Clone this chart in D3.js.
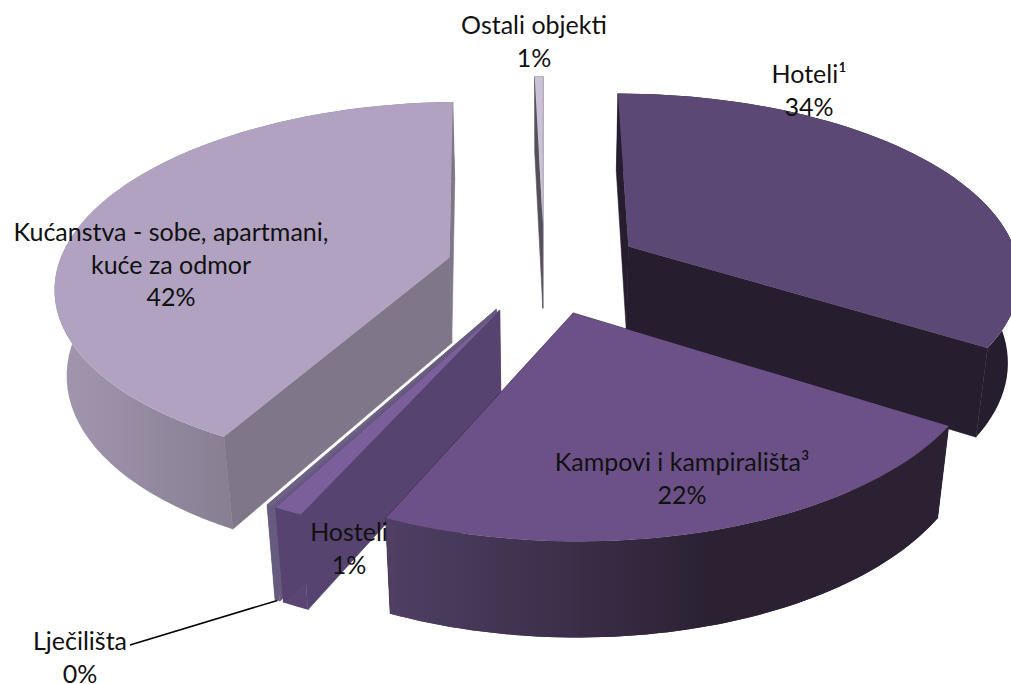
<!DOCTYPE html>
<html><head><meta charset="utf-8">
<script src="https://cdn.jsdelivr.net/npm/d3@7/dist/d3.min.js"></script>
<style>html,body{margin:0;background:#fff}svg{display:block}text{font-family:Lato,"Open Sans",sans-serif;font-size:25px;fill:#111}</style>
</head><body><svg id="c" width="1011" height="684"></svg>
<script>
const categories=["Hoteli¹","Kampovi i kampirališta³","Hosteli","Lječilišta","Kućanstva - sobe, apartmani, kuće za odmor","Ostali objekti"];
const values=[34,22.7,1.0,0.2,41.7,0.4];
const percentLabels=["34%","22%","1%","0%","42%","1%"];
const topColors=["#5b4874","#6b5187","#7a5f9a","#6f6088","#b0a2c0","#cbc3d5"];
const sideColors=["#261d2e","#2e2238","#56436f","#665a7e","#7f7789","#55505c"];
const wallFrom=["#261d2e","#4f4064","#5b4673","#6b5b85","#a397b0","#55505c"];
const wallTo=["#261d2e","#2b2133","#5b4673","#6b5b85","#7f7789","#55505c"];
const labelLines=[["Hoteli¹"],["Kampovi i kampirališta³"],["Hosteli"],["Lječilišta"],["Kućanstva - sobe, apartmani,","kuće za odmor"],["Ostali objekti"]];
const labelAnchor=[[809,83],[682,471],[349,541],[80,650],[171,241],[534,34]];

const svg=d3.select("#c");
const view={cx:544,cy:268,rx:392,ry:181,depth:88,persp:0.145,sink:0.025,explode:0.25};
function project(X,Y,z){
  const s=1/(1+view.persp*Y+view.sink*z);
  return [view.cx+view.rx*X*s, view.cy+(-view.ry*Y+view.depth*z)*s];
}
const pie=d3.pie().sort(null).value(d=>d);
const arcs=pie(values);
const line=d3.line();
const defs=svg.append("defs");
arcs.forEach((a,i)=>{
  const g=defs.append("linearGradient").attr("id","w"+i);
  g.append("stop").attr("offset",0).attr("stop-color",wallFrom[i]);
  g.append("stop").attr("offset",0.58).attr("stop-color",wallTo[i]);
  g.append("stop").attr("offset",1).attr("stop-color",wallTo[i]);
});
const drawOrder=[5,4,0,3,2,1];
drawOrder.forEach(i=>{
  const a=arcs[i],m=(a.startAngle+a.endAngle)/2;
  const ox=view.explode*Math.sin(m),oy=view.explode*Math.cos(m);
  const rim=z=>d3.range(0,61).map(k=>{
    const t=a.startAngle+(a.endAngle-a.startAngle)*k/60;
    return project(ox+Math.sin(t),oy+Math.cos(t),z);
  });
  const top=rim(0),bot=rim(1);
  const c0=project(ox,oy,0),c1=project(ox,oy,1);
  const g=svg.append("g");
  g.append("path").attr("d",line(top.concat(bot.slice().reverse()))+"Z").attr("fill",`url(#w${i})`);
  g.append("path").attr("d",line([c0,top[0],bot[0],c1])+"Z").attr("fill",sideColors[i]).attr("stroke",sideColors[i]).attr("stroke-width",0.6);
  g.append("path").attr("d",line([c0,top[60],bot[60],c1])+"Z").attr("fill",sideColors[i]).attr("stroke",sideColors[i]).attr("stroke-width",0.6);
  if(i===1){ // the near wall of this slice sits in front of its own end face
    g.append("path").attr("d",line(top.concat(bot.slice().reverse()))+"Z").attr("fill",`url(#w${i})`);
  }
  g.append("path").attr("d",line([c0,...top])+"Z").attr("fill",topColors[i]);
});
const ljec=arcs[3],lm=(ljec.startAngle+ljec.endAngle)/2;
const lp=project(view.explode*Math.sin(lm)+Math.sin(lm),view.explode*Math.cos(lm)+Math.cos(lm),1);
svg.append("path").attr("d",line([[130,645],lp])).attr("stroke","#000").attr("stroke-width",1.6).attr("fill","none");
const lh=32.5;
categories.forEach((c,i)=>{
  const [x,y]=labelAnchor[i];
  const t=svg.append("text").attr("text-anchor","middle");
  labelLines[i].concat(percentLabels[i]).forEach((s,k)=>t.append("tspan").attr("x",x).attr("y",y+k*lh).text(s));
});
</script></body></html>
